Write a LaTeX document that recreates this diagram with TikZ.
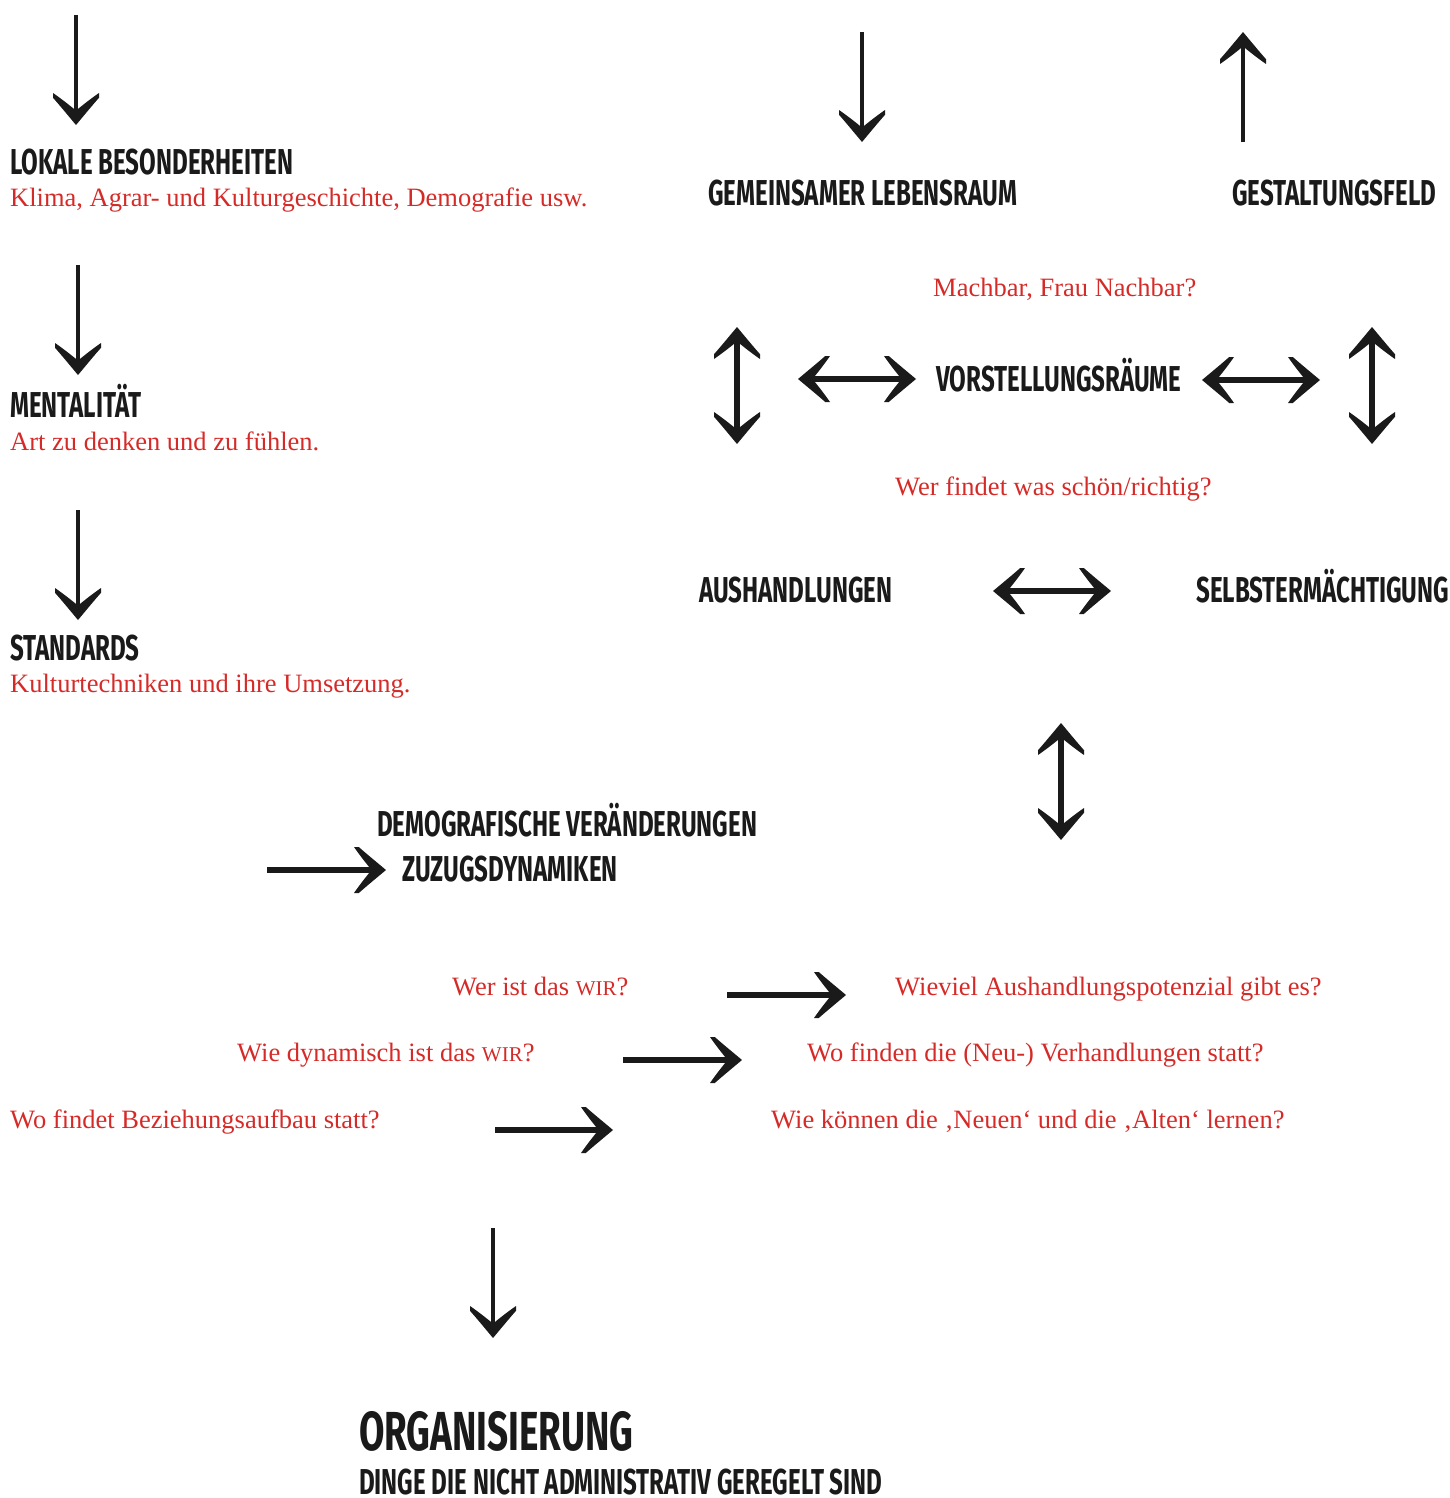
\documentclass[tikz,border=0pt]{standalone}
\usepackage{fontspec}
\setmainfont{Liberation Serif}
\newfontfamily\headfont{Fira Sans}[FakeStretch=0.67]
\usetikzlibrary{arrows.meta}
\definecolor{qred}{RGB}{213,43,40}
\definecolor{ink}{RGB}{26,26,26}

\pgfdeclarearrow{
  name = Swept,
  parameters = {\the\pgfarrowlength,\the\pgfarrowwidth},
  setup code = {
    \pgfarrowssettipend{0pt}
    \pgfarrowssetlineend{-.45\pgfarrowlength}
    \pgfarrowssetvisualbackend{-.45\pgfarrowlength}
    \pgfarrowssetbackend{-\pgfarrowlength}
    \pgfarrowsupperhullpoint{-\pgfarrowlength}{.5\pgfarrowwidth}
    \pgfarrowsupperhullpoint{0pt}{0pt}
    \pgfarrowssavethe\pgfarrowlength
    \pgfarrowssavethe\pgfarrowwidth
  },
  drawing code = {
    \pgfpathmoveto{\pgfqpoint{0pt}{0pt}}
    \pgfpathcurveto{\pgfqpoint{-.3\pgfarrowlength}{.175\pgfarrowwidth}}{\pgfqpoint{-.65\pgfarrowlength}{.375\pgfarrowwidth}}{\pgfqpoint{-.85\pgfarrowlength}{.5\pgfarrowwidth}}
    \pgfpathlineto{\pgfqpoint{-\pgfarrowlength}{.5\pgfarrowwidth}}
    \pgfpathcurveto{\pgfqpoint{-.8\pgfarrowlength}{.3\pgfarrowwidth}}{\pgfqpoint{-.6\pgfarrowlength}{.125\pgfarrowwidth}}{\pgfqpoint{-.45\pgfarrowlength}{0pt}}
    \pgfpathcurveto{\pgfqpoint{-.6\pgfarrowlength}{-.125\pgfarrowwidth}}{\pgfqpoint{-.8\pgfarrowlength}{-.3\pgfarrowwidth}}{\pgfqpoint{-\pgfarrowlength}{-.5\pgfarrowwidth}}
    \pgfpathlineto{\pgfqpoint{-.85\pgfarrowlength}{-.5\pgfarrowwidth}}
    \pgfpathcurveto{\pgfqpoint{-.65\pgfarrowlength}{-.375\pgfarrowwidth}}{\pgfqpoint{-.3\pgfarrowlength}{-.175\pgfarrowwidth}}{\pgfqpoint{0pt}{0pt}}
    \pgfpathclose
    \pgfusepathqfill
  },
  defaults = {length=32pt, width=46pt}
}

\newcommand\wirsc{{\fontsize{21}{21}\selectfont WIR}}

\begin{document}
\begin{tikzpicture}[x=1pt,y=-1pt,
  head/.style={font=\headfont\bfseries\fontsize{36}{36}\selectfont, anchor=base west, inner sep=0pt, text=ink},
  bighead/.style={head, font=\headfont\bfseries\fontsize{55}{55}\selectfont},
  note/.style={font=\fontsize{26.5}{27}\selectfont, anchor=base west, inner sep=0pt, text=qred},
  arr/.style={draw=ink, color=ink, line width=4.5pt, -{Swept}},
  warr/.style={draw=ink, color=ink, line width=6pt, -{Swept}},
  darr/.style={draw=ink, color=ink, line width=6pt, {Swept}-{Swept}}]
\useasboundingbox (0,0) rectangle (1449,1498);

% texts
\node[head] (lok) at (10,175) {LOKALE BESONDERHEITEN};
\node[note] (lokn) at (10,207) {Klima, Agrar- und Kulturgeschichte, Demografie usw.};
\node[head] (men) at (10,417) {MENTALITÄT};
\node[note] (menn) at (10,450) {Art zu denken und zu fühlen.};
\node[head] (sta) at (10,660) {STANDARDS};
\node[note] (stan) at (10,692) {Kulturtechniken und ihre Umsetzung.};
\node[head] (gem) at (708,205) {GEMEINSAMER LEBENSRAUM};
\node[head] (ges) at (1232,205) {GESTALTUNGSFELD};
\node[note] (mach) at (933,296) {Machbar, Frau Nachbar?};
\node[head] (vor) at (936,391) {VORSTELLUNGSRÄUME};
\node[note] (wer) at (895,495) {Wer findet was schön/richtig?};
\node[head] (aus) at (699,602) {AUSHANDLUNGEN};
\node[head] (sel) at (1196,602) {SELBSTERMÄCHTIGUNG};
\node[head] (dem) at (377,836) {DEMOGRAFISCHE VERÄNDERUNGEN};
\node[head] (zuz) at (402,881) {ZUZUGSDYNAMIKEN};
\node[note] (q1) at (452,995) {Wer ist das \wirsc?};
\node[note] (q2) at (895,995) {Wieviel Aushandlungspotenzial gibt es?};
\node[note] (q3) at (237,1061) {Wie dynamisch ist das \wirsc?};
\node[note] (q4) at (807,1061) {Wo finden die (Neu-) Verhandlungen statt?};
\node[note] (q5) at (10,1128) {Wo findet Beziehungsaufbau statt?};
\node[note] (q6) at (771,1128) {Wie können die ‚Neuen‘ und die ‚Alten‘ lernen?};
\node[bighead] (org) at (359,1450) {ORGANISIERUNG};
\node[head] (din) at (359,1494) {DINGE DIE NICHT ADMINISTRATIV GEREGELT SIND};

% arrow end points
\coordinate (a1s) at (76,15);    \coordinate (a1e) at (76,125);
\coordinate (a2s) at (78,265);   \coordinate (a2e) at (78,375);
\coordinate (a3s) at (78,510);   \coordinate (a3e) at (78,620);
\coordinate (a4s) at (862,32);   \coordinate (a4e) at (862,142);
\coordinate (a5s) at (1243,142); \coordinate (a5e) at (1243,32);
\coordinate (d1s) at (737,327);  \coordinate (d1e) at (737,444);
\coordinate (d2s) at (798,379);  \coordinate (d2e) at (916,379);
\coordinate (d3s) at (1202,380); \coordinate (d3e) at (1320,380);
\coordinate (d4s) at (1372,327); \coordinate (d4e) at (1372,444);
\coordinate (d5s) at (993,591);  \coordinate (d5e) at (1111,591);
\coordinate (d6s) at (1061,723); \coordinate (d6e) at (1061,840);
\coordinate (r1s) at (267,870);  \coordinate (r1e) at (386,870);
\coordinate (r2s) at (727,995);  \coordinate (r2e) at (846,995);
\coordinate (r3s) at (623,1060); \coordinate (r3e) at (742,1060);
\coordinate (r4s) at (495,1130); \coordinate (r4e) at (613,1130);
\coordinate (a6s) at (493,1228); \coordinate (a6e) at (493,1338);

% arrows
\draw[arr] (a1s) -- (a1e);
\draw[arr] (a2s) -- (a2e);
\draw[arr] (a3s) -- (a3e);
\draw[arr] (a4s) -- (a4e);
\draw[arr] (a5s) -- (a5e);
\draw[darr] (d1s) -- (d1e);
\draw[darr] (d2s) -- (d2e);
\draw[darr] (d3s) -- (d3e);
\draw[darr] (d4s) -- (d4e);
\draw[darr] (d5s) -- (d5e);
\draw[darr] (d6s) -- (d6e);
\draw[warr] (r1s) -- (r1e);
\draw[warr] (r2s) -- (r2e);
\draw[warr] (r3s) -- (r3e);
\draw[warr] (r4s) -- (r4e);
\draw[arr] (a6s) -- (a6e);
\end{tikzpicture}
\end{document}
